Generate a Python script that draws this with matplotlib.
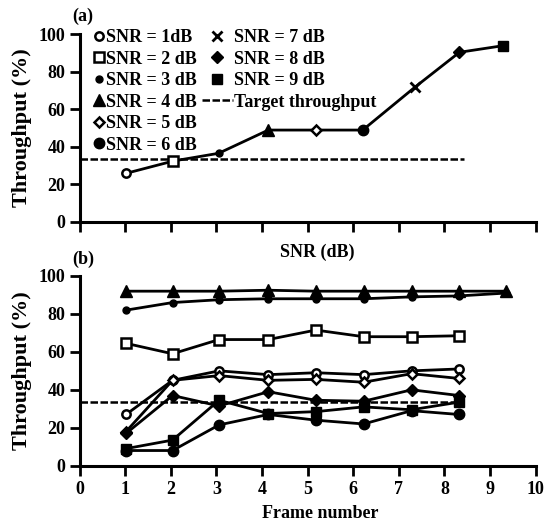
import numpy as np
import matplotlib
matplotlib.use("Agg")
import matplotlib.pyplot as plt
from matplotlib.lines import Line2D

plt.rcParams['font.family'] = ['Liberation Serif', 'DejaVu Serif']
plt.rcParams['font.weight'] = 'bold'

# ---- data ----
snr_labels = ["SNR = 1dB", "SNR = 2 dB", "SNR = 3 dB", "SNR = 4 dB", "SNR = 5 dB",
              "SNR = 6 dB", "SNR = 7 dB", "SNR = 8 dB", "SNR = 9 dB"]
target = 33.7
target_end = 8.43

# (a) mean throughput per SNR
snr_pos = [1.02, 2.06, 3.05, 4.14, 5.19, 6.21, 7.35, 8.33, 9.28]
snr_thr = [25.8, 32.4, 36.5, 48.9, 48.9, 48.9, 71.7, 90.4, 93.9]

# (b) throughput per frame for each SNR
frame_pos = [1.02, 2.04, 3.06, 4.14, 5.18, 6.23, 7.28, 8.32, 9.35]
thr_snr1 = [27, 45, 50, 48, 49, 48, 50, 51]
thr_snr2 = [64.5, 59, 66.5, 66.5, 71.5, 68, 68, 68.5]
thr_snr3 = [82, 86, 87.5, 88, 88, 88, 89, 89.5, 91]
thr_snr4 = [92, 92, 92, 92.5, 92, 92, 92, 92, 92]
thr_snr5 = [18, 45, 47.5, 45, 45.5, 44, 48.5, 46]
thr_snr6 = [8, 8, 21.5, 27, 24, 22, 29, 27]
thr_snr8 = [17, 37, 31.5, 39, 34.5, 34, 40, 37]
thr_snr9 = [9, 13.5, 34.5, 27.5, 28.5, 31, 29.5, 33.5]

# marker styles per SNR
styles = [
    dict(marker='o', ms=6, mfc='white', mew=1.8),
    dict(marker='s', ms=6.5, mfc='white', mew=1.8),
    dict(marker='o', ms=5, mfc='black', mew=1),
    dict(marker='^', ms=8, mfc='black', mew=1),
    dict(marker='D', ms=5.5, mfc='white', mew=1.8),
    dict(marker='o', ms=7.5, mfc='black', mew=1),
    dict(marker='x', ms=7, mfc='black', mew=2),
    dict(marker='D', ms=6.5, mfc='black', mew=1),
    dict(marker='s', ms=7.5, mfc='black', mew=1),
]

W, H = 547, 524
fig = plt.figure(figsize=(W / 100, H / 100), dpi=100)

def px_axes(x0, x1, y0, y1):
    return fig.add_axes([x0 / W, 1 - y1 / H, (x1 - x0) / W, (y1 - y0) / H])

ax1 = px_axes(79.5, 535.6, 34.3, 221.7)
ax2 = px_axes(79.5, 535.6, 276, 465.7)

for ax in (ax1, ax2):
    ax.set_xlim(0, 10)
    ax.set_ylim(0, 100)
    ax.set_xticks(range(0, 11))
    ax.set_yticks(range(0, 101, 20))
    for s in ('top', 'right'):
        ax.spines[s].set_visible(False)
    for s in ('left', 'bottom'):
        ax.spines[s].set_linewidth(2.2)
    ax.tick_params(width=2, length=7, labelsize=13, pad=3)
    ax.tick_params(axis='x', pad=4)
    ax.hlines(target, 0, target_end, colors='black', linestyles=(0, (3, 1)), lw=1.8, zorder=2)

ax1.tick_params(axis='x', labelbottom=False)

# (a)
ax1.plot(snr_pos, snr_thr, color='black', lw=2, zorder=3)
for i, st in enumerate(styles):
    ax1.plot(snr_pos[i], snr_thr[i], ls='none', color='black', mec='black',
             clip_on=False, zorder=4, **st)

# (b)
series_b = [(thr_snr1, 0), (thr_snr2, 1), (thr_snr3, 2), (thr_snr4, 3), (thr_snr5, 4),
            (thr_snr6, 5), (thr_snr8, 7), (thr_snr9, 8)]
for vals, k in series_b:
    ax2.plot(frame_pos[:len(vals)], vals, color='black', mec='black', lw=2,
             clip_on=False, zorder=4, **styles[k])

# legend in (a), two blocks
h1 = [Line2D([], [], ls='none', color='black', mec='black', **styles[i]) for i in range(6)]
h2 = [Line2D([], [], ls='none', color='black', mec='black', **styles[i]) for i in range(6, 9)]
h2.append(Line2D([], [], color='black', ls=(0, (3, 1)), lw=1.8))
common = dict(frameon=False, fontsize=13, borderpad=0, borderaxespad=0,
              labelspacing=0.25, handletextpad=0.05, loc='upper left',
              bbox_transform=fig.transFigure)
leg1 = ax1.legend(h1, snr_labels[:6], handlelength=0.7,
                  bbox_to_anchor=(92.9 / W, 1 - 29 / H), **common)
ax1.add_artist(leg1)
ax1.legend(h2, snr_labels[6:] + ["Target throughput"], handlelength=1.72,
           bbox_to_anchor=(201.7 / W, 1 - 29 / H), **common)

# texts
fig.text(83 / W, 1 - 16 / H, "(a)", ha='center', va='center', fontsize=13)
fig.text(83 / W, 1 - 259 / H, "(b)", ha='center', va='center', fontsize=13)
fig.text(317 / W, 1 - 252 / H, "SNR (dB)", ha='center', va='center', fontsize=13)
fig.text(320 / W, 1 - 513 / H, "Frame number", ha='center', va='center', fontsize=13)
fig.text(22 / W, 1 - 128 / H, "Throughput (%)", ha='center', va='center', rotation=90, fontsize=16)
fig.text(22 / W, 1 - 371 / H, "Throughput (%)", ha='center', va='center', rotation=90, fontsize=16)

fig.savefig("out.png", dpi=100)
